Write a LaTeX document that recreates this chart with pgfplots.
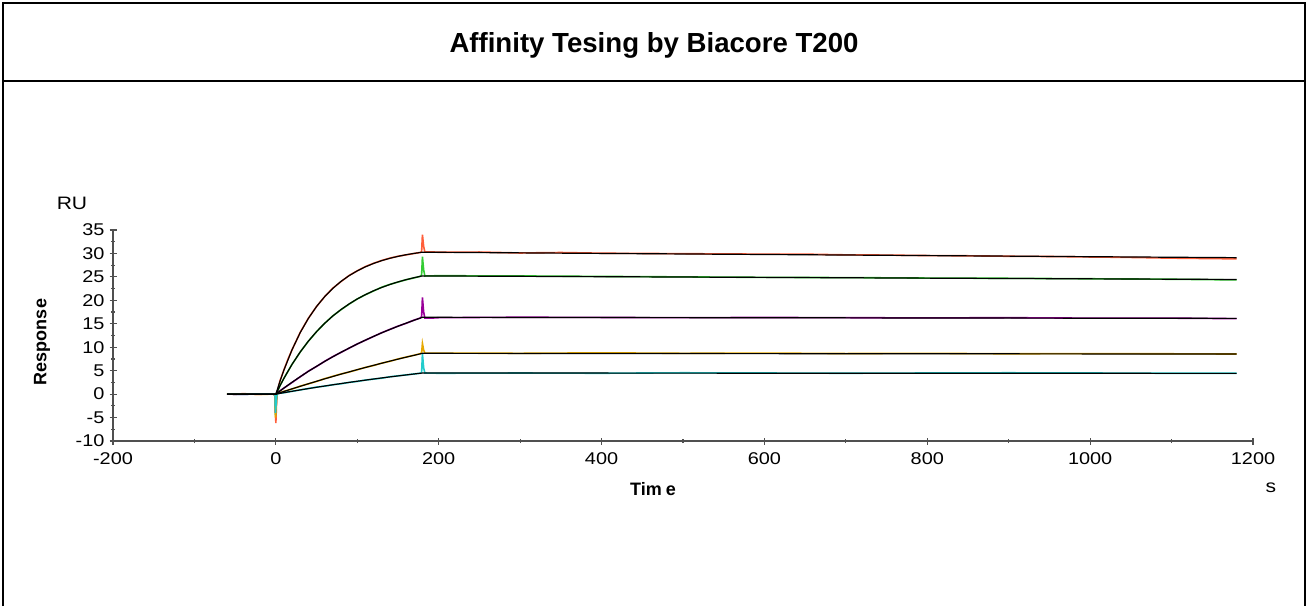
\documentclass[border=0pt]{standalone}
\usepackage{pgfplots}
\pgfplotsset{compat=1.18}
\usepackage{fontspec}
\setmainfont{Liberation Sans}
\newfontfamily\widefont{Liberation Sans}[FakeStretch=1.17]

\definecolor{axisgray}{HTML}{505050}
\definecolor{cred}{HTML}{FF5E3A}
\definecolor{cgreen}{HTML}{33CC33}
\definecolor{cpurple}{HTML}{990099}
\definecolor{corange}{HTML}{E6A800}
\definecolor{ccyan}{HTML}{22CCCC}

\begin{document}
\begin{tikzpicture}
  % page is 1308x606 px at 0.5pt per px
  \useasboundingbox (0,0) rectangle (654pt,303pt);
  \draw[line width=1pt] (1.5pt,0) -- (1.5pt,301.5pt) -- (652.5pt,301.5pt) -- (652.5pt,0);
  \draw[line width=1pt] (1.5pt,262.5pt) -- (652.5pt,262.5pt);
  \node[anchor=base, font=\fontsize{13.8}{16}\selectfont\bfseries] at (327pt,276.5pt)
    {Affinity Tesing by Biacore T200};

  \begin{axis}[
      at={(56.5pt,82.5pt)}, anchor=south west,
      scale only axis, width=570pt, height=105.5pt,
      xmin=-200, xmax=1200, ymin=-10, ymax=35,
      axis lines*=left,
      axis line style={-, draw=axisgray, line width=0.6pt},
      xtick distance=200, ytick distance=5,
      minor x tick num=1, minor y tick num=1,
      tick align=center, major tick length=3.5pt, minor tick length=2pt,
      every tick/.style={axisgray, line width=0.6pt},
      ticklabel style={font=\widefont\fontsize{8.5}{10}\selectfont},
      yticklabel style={xshift=1pt},
      xticklabel style={yshift=-0.5pt},
      /pgf/number format/assume math mode=true,
      /pgf/number format/1000 sep={},
      clip=false,
    ]
    % measured sensorgrams
    \addplot[cred, line width=0.8pt] coordinates {
      (-60,0.05) (-50,-0.05) (-40,0.1) (-30,0) (-20,-0.05) (-10,0.05) (-3,0) (-1,-0.3)
      (0,-6.2) (1,-1) (2,0.6) (5,2.8) (10,5.2) (15,7.5) (20,9.5) (30,13.2) (40,16.2)
      (50,18.7) (60,20.8) (70,22.6) (80,24.0) (90,25.3) (100,26.3) (110,27.2) (120,27.9)
      (130,28.5) (140,29.0) (150,29.4) (160,29.7) (170,30.0) (177,30.2) (179,30.4)
      (180,34.0) (181.5,31.5) (183,30.3) (190,30.35) (200,30.25) (250,30.3) (300,30.1)
      (350,30.2) (400,30.05) (450,30.0) (500,29.95) (550,29.9) (600,29.85) (650,29.85)
      (700,29.7) (750,29.65) (800,29.55) (850,29.5) (900,29.4) (950,29.35) (1000,29.25)
      (1050,29.15) (1100,29.0) (1150,28.9) (1180,28.85)};
    \addplot[cgreen, line width=0.8pt] coordinates {
      (-60,0) (-40,0.05) (-20,0) (-3,0) (-1,-0.2) (-0.5,-4.5) (1,-0.5) (2,0.5) (5,1.8)
      (10,3.4) (20,6.4) (30,9.0) (40,11.3) (50,13.3) (60,15.1) (70,16.7) (80,18.0)
      (90,19.2) (100,20.3) (110,21.2) (120,22.0) (130,22.8) (140,23.4) (150,23.9)
      (160,24.4) (170,24.8) (177,25.1) (179,25.4) (180,29.3) (181.5,26.5) (183,25.2)
      (200,25.25) (300,25.2) (400,25.1) (500,25.0) (600,24.9) (700,24.85) (800,24.75)
      (900,24.7) (1000,24.6) (1100,24.5) (1180,24.35)};
    \addplot[cpurple, line width=0.8pt] coordinates {
      (-60,0) (-40,-0.05) (-20,0.05) (-3,0) (-1,-0.2) (-0.5,-4.0) (1,-0.4) (2,0.3) (5,0.7)
      (10,1.3) (20,2.5) (30,3.7) (40,4.9) (50,5.9) (60,7.0) (70,8.0) (80,8.9) (90,9.8)
      (100,10.7) (110,11.5) (120,12.3) (130,13.1) (140,13.8) (150,14.5) (160,15.1)
      (170,15.8) (177,16.2) (179,16.5) (180,20.6) (181.5,17.5) (183,16.2) (190,16.2)
      (200,16.3) (300,16.4) (400,16.35) (500,16.3) (600,16.35) (700,16.3) (800,16.25)
      (900,16.3) (1000,16.2) (1100,16.2) (1180,16.1)};
    \addplot[corange, line width=0.8pt] coordinates {
      (-60,0) (-40,0.05) (-20,-0.05) (-3,0) (-1,-0.3) (-0.5,-5.0) (1,-0.6) (2,0.2) (5,0.3)
      (10,0.6) (20,1.1) (30,1.7) (40,2.2) (50,2.7) (60,3.3) (70,3.8) (80,4.3) (90,4.7)
      (100,5.2) (110,5.7) (120,6.1) (130,6.6) (140,7.0) (150,7.5) (160,7.9) (170,8.3)
      (177,8.6) (179,8.8) (180,10.8) (181.5,9.4) (183,8.75) (200,8.75) (300,8.7)
      (400,8.8) (500,8.7) (600,8.75) (700,8.65) (800,8.7) (900,8.6) (1000,8.65)
      (1100,8.6) (1180,8.55)};
    \addplot[ccyan, line width=0.8pt] coordinates {
      (-60,0) (-40,-0.05) (-20,0.05) (-3,0) (-1,-0.2) (-0.5,-4.0) (1,-0.4) (2,0.1) (5,0.2)
      (10,0.3) (20,0.6) (30,0.9) (40,1.2) (50,1.5) (60,1.7) (70,2.0) (80,2.2) (90,2.5)
      (100,2.7) (110,3.0) (120,3.2) (130,3.4) (140,3.7) (150,3.9) (160,4.1) (170,4.3)
      (177,4.45) (179,4.6) (180,8.6) (181.5,5.6) (183,4.5) (200,4.45) (300,4.5)
      (400,4.45) (500,4.55) (600,4.5) (700,4.45) (800,4.5) (900,4.55) (1000,4.5)
      (1100,4.45) (1180,4.45)};

    % 1:1 binding fits
    \addplot[black, line width=0.6pt] coordinates {
      (-60,0) (0,0) (5,2.71) (10,5.19) (20,9.52) (30,13.15) (40,16.17) (50,18.69) (60,20.80)
      (70,22.56) (80,24.04) (90,25.27) (100,26.29) (110,27.15) (120,27.87) (130,28.47)
      (140,28.97) (150,29.38) (160,29.73) (170,30.02) (180,30.27) (380,30.03) (580,29.80)
      (780,29.57) (980,29.33) (1180,29.10)};
    \addplot[black, line width=0.6pt] coordinates {
      (-60,0) (0,0) (5,1.75) (10,3.40) (20,6.39) (30,9.01) (40,11.31) (50,13.34) (60,15.11)
      (70,16.67) (80,18.04) (90,19.24) (100,20.30) (110,21.22) (120,22.04) (130,22.75)
      (140,23.38) (150,23.93) (160,24.41) (170,24.84) (180,25.21) (380,25.06) (580,24.91)
      (780,24.75) (980,24.60) (1180,24.45)};
    \addplot[black, line width=0.6pt] coordinates {
      (-60,0) (0,0) (10,1.30) (20,2.54) (30,3.73) (40,4.86) (50,5.94) (60,6.98) (70,7.97)
      (80,8.92) (90,9.82) (100,10.69) (110,11.52) (120,12.31) (130,13.07) (140,13.79)
      (150,14.48) (160,15.14) (170,15.77) (180,16.38) (680,16.27) (1180,16.15)};
    \addplot[black, line width=0.6pt] coordinates {
      (-60,0) (0,0) (10,0.57) (20,1.13) (30,1.67) (40,2.21) (50,2.74) (60,3.26) (70,3.76)
      (80,4.26) (90,4.74) (100,5.22) (110,5.68) (120,6.14) (130,6.59) (140,7.03) (150,7.46)
      (160,7.88) (170,8.29) (180,8.70) (680,8.62) (1180,8.55)};
    \addplot[black, line width=0.6pt] coordinates {
      (-60,0) (0,0) (10,0.31) (20,0.61) (30,0.90) (40,1.18) (50,1.46) (60,1.73) (70,1.99)
      (80,2.25) (90,2.50) (100,2.75) (110,2.98) (120,3.22) (130,3.45) (140,3.67) (150,3.88)
      (160,4.09) (170,4.30) (180,4.50) (680,4.46) (1180,4.42)};
  \end{axis}

  \node[font=\widefont\fontsize{9}{10}\selectfont] at (36pt,201.5pt) {RU};
  \node[font=\fontsize{9}{10}\selectfont\bfseries, rotate=90] at (21pt,132pt) {Response};
  \node[anchor=base, font=\fontsize{9}{10}\selectfont\bfseries] at (326.5pt,55.5pt) {Tim\hspace{2pt}e};
  \node[anchor=base, font=\widefont\fontsize{9}{10}\selectfont] at (635.5pt,56.5pt) {s};
\end{tikzpicture}
\end{document}
